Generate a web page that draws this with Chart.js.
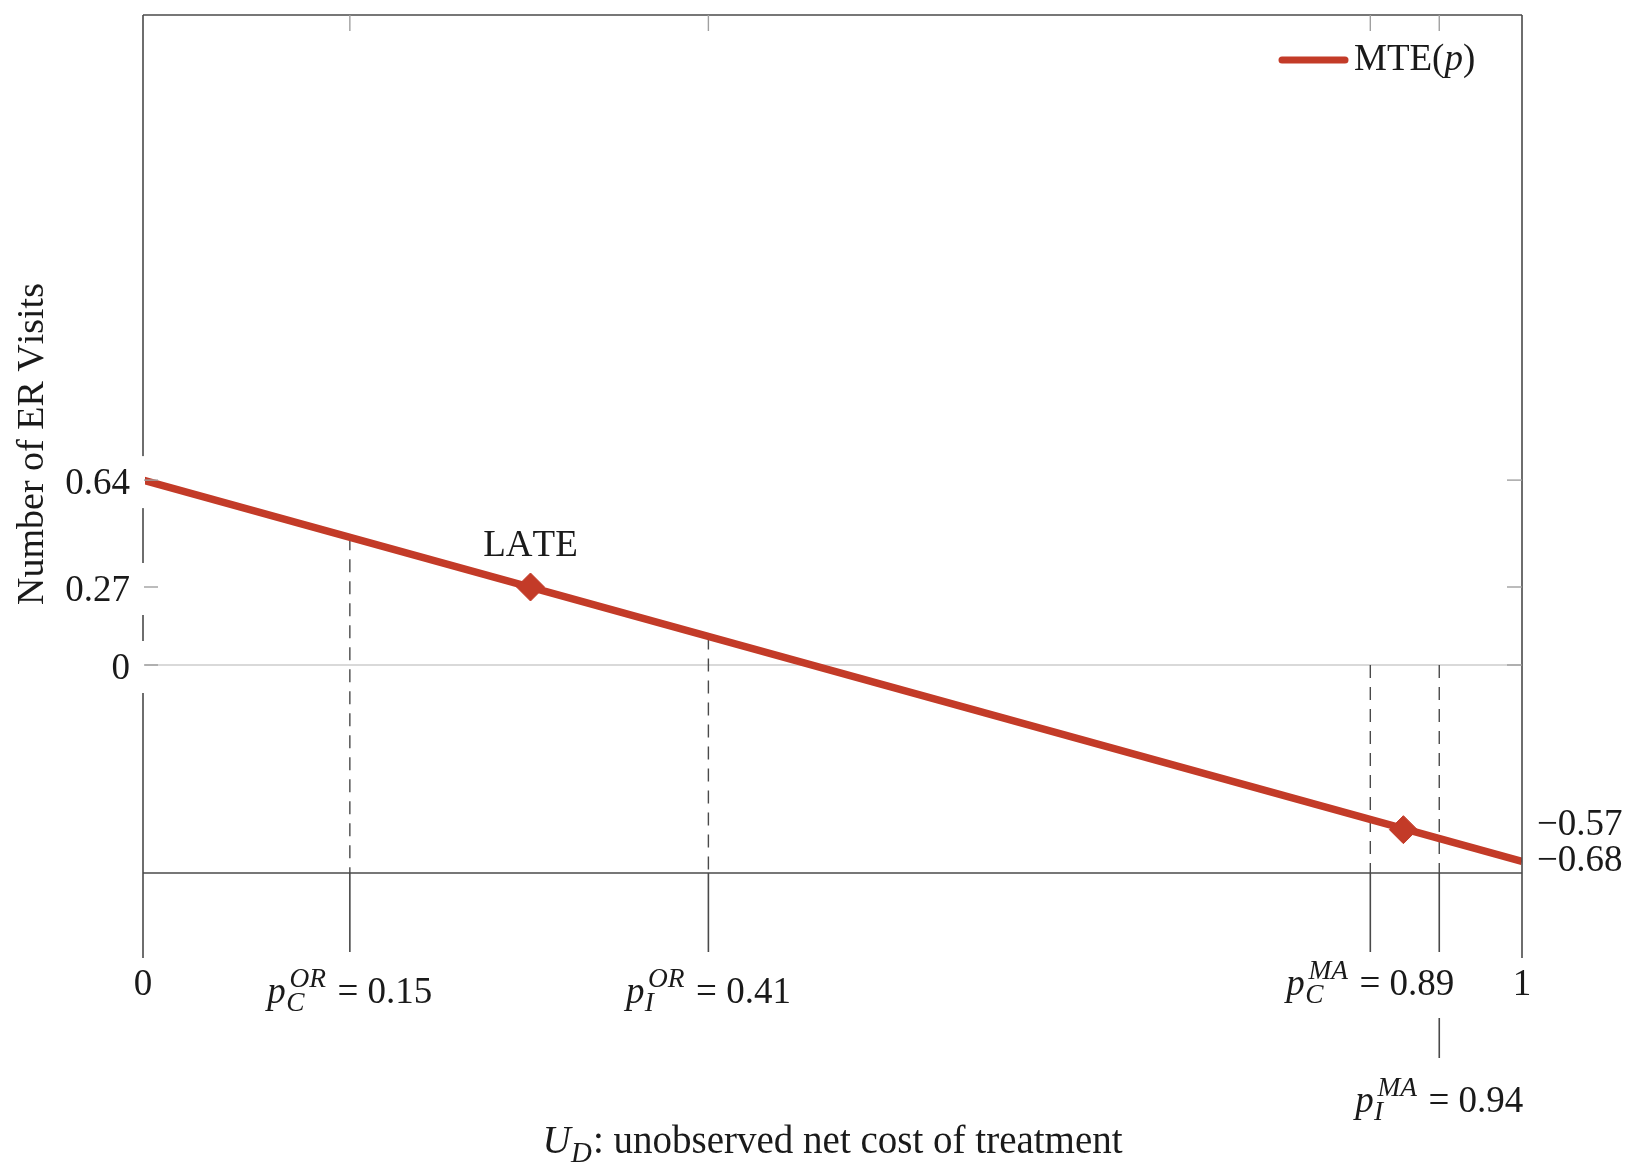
<!DOCTYPE html>
<html>
<head>
  <title>MTE curve</title>
  <script src="https://cdn.jsdelivr.net/npm/chart.js"></script>
  <style>
    body { margin: 0; background: #fff; }
    #chartCanvas { display: block; }
  </style>
</head>
<body>
  <canvas id="chartCanvas" width="1646" height="1166"></canvas>

<script>
// MTE(p) line, read at its two ends
const mteX = [0, 1];
const mteY = [0.64, -0.68];

// diamond markers on the line
const markerX = [0.281, 0.914];
const markerY = [0.27, -0.57];
const markerLabels = ['LATE', ''];

// dashed cut-off lines: x position and the y where the dash starts
const cutoffX = [0.15, 0.41, 0.89, 0.94];
const cutoffTop = [0.442, 0.099, 0, 0];

// x ticks (first row) and the lower row
const xTickValues = [0, 0.15, 0.41, 0.89, 1];
const xTickLabels = ['0', '$p_C^{OR}$ = 0.15', '$p_I^{OR}$ = 0.41', '$p_C^{MA}$ = 0.89', '1'];
const xLowTickValues = [0.94];
const xLowTickLabels = ['$p_I^{MA}$ = 0.94'];

// y ticks
const yLeftTicks = [0.64, 0.27, 0];
const yRightTicks = [-0.57, -0.68];

const yMin = -0.72;
const yMax = 2.25;

const RED = '#c33b28';
const FAMILY = '"Liberation Serif", "Times New Roman", serif';
const FS = 37;

function fmt(v) {
  return v < 0 ? '\u2212' + String(-v) : String(v);
}

function font(size, italic) {
  return (italic ? 'italic ' : '') + size + 'px ' + FAMILY;
}

// tiny TeX-like parser: $..$ math, letters italic, _x / ^{xy} scripts
function parseTex(s) {
  const runs = [];
  let math = false;
  for (let i = 0; i < s.length; i++) {
    const c = s[i];
    if (c === '$') { math = !math; continue; }
    if (math && (c === '_' || c === '^')) {
      let arg;
      if (s[i + 1] === '{') {
        const j = s.indexOf('}', i);
        arg = s.slice(i + 2, j);
        i = j;
      } else {
        arg = s[i + 1];
        i++;
      }
      runs.push({ text: arg, italic: true, pos: c === '_' ? 'sub' : 'sup' });
      continue;
    }
    runs.push({ text: c, italic: math && /[A-Za-z]/.test(c), pos: 'base' });
  }
  return runs;
}

function layoutTex(ctx, s, size) {
  const items = [];
  let x = 0, scriptStart = null, scriptW = 0;
  for (const r of parseTex(s)) {
    if (r.pos === 'base') {
      if (scriptStart !== null) { x = scriptStart + scriptW; scriptStart = null; }
      ctx.font = font(size, r.italic);
      items.push({ text: r.text, italic: r.italic, sz: size, x: x, dy: 0 });
      x += ctx.measureText(r.text).width;
    } else {
      const sz = size * 0.74;
      ctx.font = font(sz, true);
      const w = ctx.measureText(r.text).width;
      if (scriptStart === null) { scriptStart = x + size * 0.04; scriptW = 0; }
      const sup = r.pos === 'sup';
      items.push({ text: r.text, italic: true, sz: sz, x: scriptStart + (sup ? size * 0.06 : -size * 0.03),
                   dy: sup ? -size * 0.42 : size * 0.22 });
      scriptW = Math.max(scriptW, w + (sup ? size * 0.12 : 0));
    }
  }
  if (scriptStart !== null) x = scriptStart + scriptW;
  return { items: items, width: x };
}

// y is the baseline
function drawTex(ctx, s, x, y, size, align) {
  const L = layoutTex(ctx, s, size);
  const x0 = align === 'center' ? x - L.width / 2 : align === 'right' ? x - L.width : x;
  ctx.textAlign = 'left';
  ctx.textBaseline = 'alphabetic';
  for (const it of L.items) {
    ctx.font = font(it.sz, it.italic);
    ctx.fillText(it.text, x0 + it.x, y + it.dy);
  }
  return { left: x0, width: L.width };
}

function seg(ctx, x1, y1, x2, y2) {
  ctx.beginPath();
  ctx.moveTo(x1, y1);
  ctx.lineTo(x2, y2);
  ctx.stroke();
}

// axis box, zero line, ticks and all labels
const axesPlugin = {
  id: 'axesPlugin',
  beforeDatasetsDraw(chart) {
    const ctx = chart.ctx, a = chart.chartArea;
    const ys = chart.scales.y;
    ctx.save();
    ctx.strokeStyle = '#b4b4b4';
    ctx.lineWidth = 1.2;
    seg(ctx, a.left, ys.getPixelForValue(0), a.right, ys.getPixelForValue(0));
    ctx.restore();
  },
  afterDraw(chart) {
    const ctx = chart.ctx, a = chart.chartArea;
    const xs = chart.scales.x, ys = chart.scales.y;
    ctx.save();

    // box
    ctx.strokeStyle = '#4a4a4a';
    ctx.lineWidth = 1.6;
    seg(ctx, a.left, a.top, a.right, a.top);
    seg(ctx, a.left, a.bottom, a.right, a.bottom);

    // long x ticks below the axis
    xTickValues.forEach(v => {
      const px = xs.getPixelForValue(v);
      seg(ctx, px, v === 0 || v === 1 ? a.top : a.bottom, px, a.bottom + 85);
    });
    xLowTickValues.forEach(v => {
      const px = xs.getPixelForValue(v);
      seg(ctx, px, a.bottom, px, a.bottom + 185);
    });

    // short inner ticks on top and right
    ctx.strokeStyle = '#a0a0a0';
    ctx.lineWidth = 1.4;
    xTickValues.concat(xLowTickValues).forEach(v => {
      if (v === 0 || v === 1) return;
      const px = xs.getPixelForValue(v);
      seg(ctx, px, a.top, px, a.top + 16);
    });
    yLeftTicks.forEach(v => {
      const py = ys.getPixelForValue(v);
      seg(ctx, a.right, py, a.right - 15, py);
    });

    ctx.fillStyle = '#1a1a1a';

    // left y labels with white backing (cuts the axis line)
    yLeftTicks.forEach(v => {
      const py = ys.getPixelForValue(v) + 2;
      ctx.save();
      ctx.fillStyle = '#fff';
      ctx.fillRect(a.left - 85, py - 26, 87, 52);
      ctx.restore();
      drawTex(ctx, fmt(v), a.left - 13, py + 12, FS, 'right');
    });
    // short left ticks over the white backing
    ctx.strokeStyle = '#a0a0a0';
    yLeftTicks.forEach(v => {
      const py = ys.getPixelForValue(v);
      seg(ctx, a.left + 1, py, a.left + 15, py);
    });

    // right y labels
    const rightNudge = [-7, -2];
    yRightTicks.forEach((v, i) => {
      const py = ys.getPixelForValue(v) + rightNudge[i];
      drawTex(ctx, fmt(v), a.right + 15, py + 12, FS, 'left');
    });

    // x labels, first row
    const xBase = [122, 130, 130, 122, 122];
    xTickValues.forEach((v, i) => {
      const px = xs.getPixelForValue(v);
      const L = layoutTex(ctx, xTickLabels[i], FS);
      if (xTickLabels[i].length > 1) {
        ctx.save();
        ctx.fillStyle = '#fff';
        ctx.fillRect(px - L.width / 2 - 4, a.bottom + 79, L.width + 8, 66);
        ctx.restore();
      }
      drawTex(ctx, xTickLabels[i], px, a.bottom + xBase[i], FS, 'center');
    });
    // lower row
    xLowTickValues.forEach((v, i) => {
      drawTex(ctx, xLowTickLabels[i], xs.getPixelForValue(v), a.bottom + 239, FS, 'center');
    });

    // marker labels
    markerLabels.forEach((t, i) => {
      if (!t) return;
      drawTex(ctx, t, xs.getPixelForValue(markerX[i]), ys.getPixelForValue(markerY[i]) - 31, FS, 'center');
    });

    // axis titles
    drawTex(ctx, '$U_D$: unobserved net cost of treatment', (a.left + a.right) / 2, 1153, 39, 'center');
    ctx.save();
    ctx.translate(43, (a.top + a.bottom) / 2);
    ctx.rotate(-Math.PI / 2);
    drawTex(ctx, 'Number of ER Visits', 0, 0, 38, 'center');
    ctx.restore();

    // legend
    ctx.strokeStyle = RED;
    ctx.lineWidth = 7;
    ctx.lineCap = 'round';
    seg(ctx, a.left + 1139, a.top + 45, a.left + 1202, a.top + 45);
    ctx.fillStyle = '#1a1a1a';
    drawTex(ctx, 'MTE($p$)', a.left + 1211, a.top + 55, FS, 'left');

    ctx.restore();
  }
};

const datasets = [
  {
    label: 'markers',
    data: markerX.map((x, i) => ({ x: x, y: markerY[i] })),
    showLine: false,
    pointStyle: 'rectRot',
    pointRadius: 14,
    pointBackgroundColor: RED,
    pointBorderColor: RED,
    pointBorderWidth: 1
  },
  {
    label: 'MTE(p)',
    data: mteX.map((x, i) => ({ x: x, y: mteY[i] })),
    showLine: true,
    borderColor: RED,
    borderWidth: 7.5,
    pointRadius: 0
  }
];
cutoffX.forEach((x, i) => {
  datasets.push({
    label: 'cut ' + x,
    data: [{ x: x, y: cutoffTop[i] }, { x: x, y: yMin }],
    showLine: true,
    borderColor: '#4a4a4a',
    borderWidth: 1.4,
    borderDash: [13, 9],
    pointRadius: 0
  });
});

new Chart(document.getElementById('chartCanvas'), {
  type: 'scatter',
  data: { datasets: datasets },
  options: {
    responsive: false,
    animation: false,
    layout: { padding: { left: 143, right: 124, top: 9, bottom: 293 } },
    scales: {
      x: { type: 'linear', min: 0, max: 1, display: false },
      y: { type: 'linear', min: yMin, max: yMax, display: false }
    },
    plugins: {
      legend: { display: false },
      tooltip: { enabled: false }
    }
  },
  plugins: [axesPlugin]
});
</script>
</body>
</html>
